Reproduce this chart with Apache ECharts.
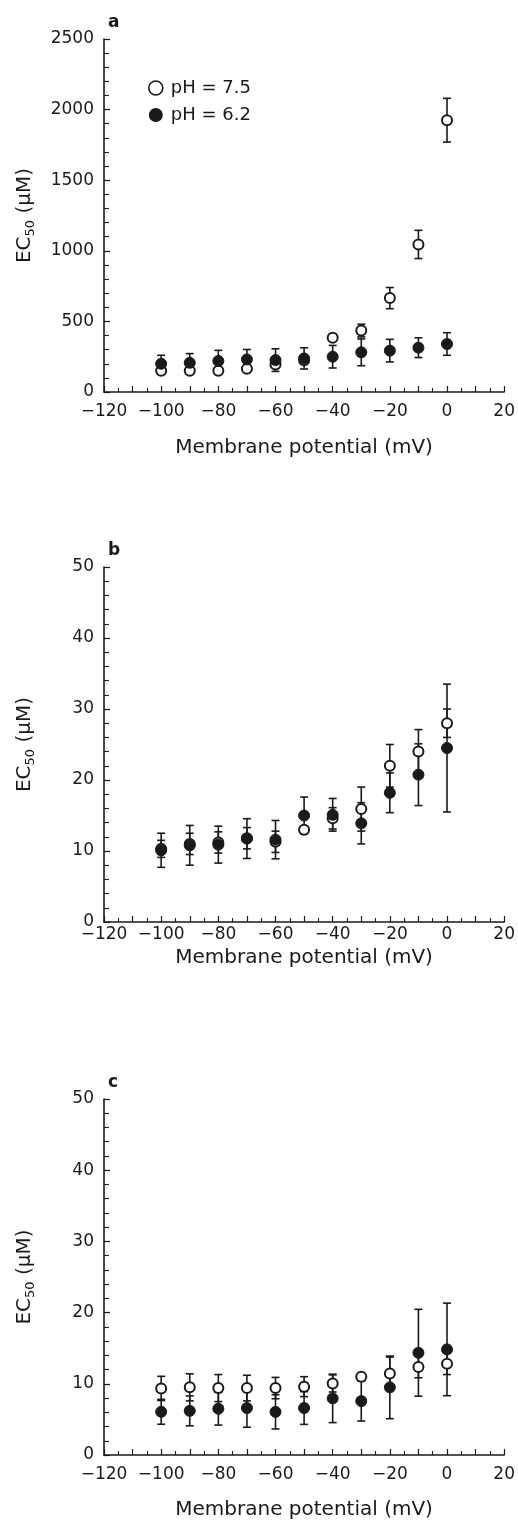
<!DOCTYPE html>
<html>
<head>
<meta charset="utf-8">
<script src="https://cdn.jsdelivr.net/npm/echarts@6/dist/echarts.min.js"></script>
<style>
  html, body { margin: 0; padding: 0; background: #fff; }
  #main { width: 518px; height: 1521px; }
</style>
</head>
<body>
<div id="main"></div>
<script>
// membrane potential (mV)
var voltages = [-100, -90, -80, -70, -60, -50, -40, -30, -20, -10, 0];

// panel a, EC50 (uM)
var aOpen = [150, 150, 150, 165, 195, 225, 385, 435, 665, 1045, 1925];
var aOpenErr = [15, 15, 15, 15, 15, 15, 20, 45, 75, 100, 155];
var aFilled = [200, 207, 220, 231, 226, 238, 250, 281, 293, 314, 340];
var aFilledErr = [60, 65, 75, 70, 80, 75, 80, 95, 80, 70, 80];

// panel b
var bOpen = [10.3, 11.0, 11.2, 11.8, 11.3, 13.0, 14.6, 15.9, 22.0, 24.0, 28.0];
var bOpenErr = [1.2, 1.5, 1.5, 1.5, 1.5, 0.4, 1.5, 3.1, 3.0, 3.1, 2.0];
var bFilled = [10.1, 10.8, 10.9, 11.75, 11.6, 15.0, 15.1, 13.9, 18.2, 20.75, 24.5];
var bFilledErr = [2.4, 2.8, 2.6, 2.8, 2.7, 2.6, 2.3, 2.9, 2.8, 4.35, 9.0];

// panel c
var cOpen = [9.35, 9.5, 9.4, 9.4, 9.4, 9.6, 10.05, 11.0, 11.45, 12.35, 12.8];
var cOpenErr = [1.7, 1.9, 1.9, 1.8, 1.5, 1.4, 1.2, 0.3, 2.3, 1.5, 1.5];
var cFilled = [6.07, 6.2, 6.5, 6.6, 6.06, 6.6, 7.95, 7.57, 9.5, 14.36, 14.83];
var cFilledErr = [1.75, 2.1, 2.3, 2.7, 2.4, 2.3, 3.4, 2.8, 4.4, 6.1, 6.5];

var legendNames = ['pH = 7.5', 'pH = 6.2'];
var panelLetters = ['a', 'b', 'c'];

var FONT = '"DejaVu Sans", "Noto Sans", sans-serif';
var INK = '#1a1a1a';
var FS = 17;      // 刻度文字
var NAME_FS = 20; // 轴名称

var panels = [
  { top: 39, height: 353, max: 2500, interval: 500, open: aOpen, openErr: aOpenErr, filled: aFilled, filledErr: aFilledErr, labelMargin: 11, nameGap: 46 },
  { top: 567, height: 355, max: 50, interval: 10, open: bOpen, openErr: bOpenErr, filled: bFilled, filledErr: bFilledErr, labelMargin: 4, nameGap: 26 },
  { top: 1099, height: 356, max: 50, interval: 10, open: cOpen, openErr: cOpenErr, filled: cFilled, filledErr: cFilledErr, labelMargin: 11, nameGap: 45 }
];

function errData(vals, errs) {
  return voltages.map(function (v, i) {
    return [v, vals[i] - errs[i], vals[i] + errs[i]];
  });
}

function pointData(vals) {
  return voltages.map(function (v, i) { return [v, vals[i]]; });
}

// 误差棒
function renderErr(params, api) {
  var x = api.value(0);
  var lo = api.coord([x, api.value(1)]);
  var hi = api.coord([x, api.value(2)]);
  var half = 4;
  var style = { stroke: INK, lineWidth: 1.6 };
  return {
    type: 'group',
    children: [
      { type: 'line', shape: { x1: lo[0], y1: lo[1], x2: hi[0], y2: hi[1] }, style: style },
      { type: 'line', shape: { x1: lo[0] - half, y1: lo[1], x2: lo[0] + half, y2: lo[1] }, style: style },
      { type: 'line', shape: { x1: hi[0] - half, y1: hi[1], x2: hi[0] + half, y2: hi[1] }, style: style }
    ]
  };
}

var grids = [], xAxes = [], yAxes = [], series = [], titles = [];

panels.forEach(function (p, k) {
  grids.push({ left: 104, right: 12, top: p.top, height: p.height });
  titles.push({
    text: panelLetters[k], left: 103, top: p.top - 30,
    textStyle: { fontSize: FS, fontWeight: 'bold', color: INK, fontFamily: FONT }
  });
  xAxes.push({
    gridIndex: k, type: 'value', min: -120, max: 20, interval: 10,
    name: 'Membrane potential (mV)', nameLocation: 'middle', nameGap: p.nameGap,
    nameTextStyle: { fontSize: NAME_FS, color: INK, fontFamily: FONT },
    axisLine: { show: true, onZero: false, lineStyle: { color: INK, width: 1.6 } },
    axisTick: { show: true, inside: true, length: 6, lineStyle: { color: INK, width: 1.2 } },
    minorTick: { show: true, splitNumber: 2, length: 4, lineStyle: { color: INK, width: 1.1 } },
    splitLine: { show: false },
    axisLabel: {
      margin: p.labelMargin, fontSize: FS, color: INK, fontFamily: FONT,
      formatter: function (v) { return v % 20 === 0 ? String(v).replace('-', '\u2212') : ''; }
    }
  });
  yAxes.push({
    gridIndex: k, type: 'value', min: 0, max: p.max, interval: p.interval,
    name: '{m|EC}{s|50}{m| (\u03bcM)}', nameLocation: 'middle', nameGap: 67, nameRotate: 90,
    nameTextStyle: {
      color: INK, fontFamily: FONT, fontSize: NAME_FS,
      rich: {
        m: { fontSize: NAME_FS, color: INK, fontFamily: FONT, lineHeight: 24 },
        s: { fontSize: 13, color: INK, fontFamily: FONT, lineHeight: 13, verticalAlign: 'bottom' }
      }
    },
    axisLine: { show: true, onZero: false, lineStyle: { color: INK, width: 1.6 } },
    axisTick: { show: true, inside: true, length: 6, lineStyle: { color: INK, width: 1.2 } },
    minorTick: { show: true, splitNumber: 5, length: 5, lineStyle: { color: INK, width: 1.1 } },
    splitLine: { show: false },
    axisLabel: {
      margin: 10, fontSize: FS, color: INK, fontFamily: FONT,
      formatter: function (v) { return String(v); }
    }
  });

  series.push({
    type: 'custom', name: legendNames[0], xAxisIndex: k, yAxisIndex: k, z: 1,
    renderItem: renderErr, data: errData(p.open, p.openErr), silent: true
  });
  series.push({
    type: 'custom', name: legendNames[1], xAxisIndex: k, yAxisIndex: k, z: 1,
    renderItem: renderErr, data: errData(p.filled, p.filledErr), silent: true
  });
  series.push({
    type: 'scatter', name: legendNames[0], xAxisIndex: k, yAxisIndex: k, z: 3,
    symbol: 'circle', symbolSize: 10,
    itemStyle: { color: '#fff', borderColor: INK, borderWidth: 2, opacity: 1 },
    data: pointData(p.open)
  });
  series.push({
    type: 'scatter', name: legendNames[1], xAxisIndex: k, yAxisIndex: k, z: 4,
    symbol: 'circle', symbolSize: 11,
    itemStyle: { color: INK, borderColor: INK, borderWidth: 1, opacity: 1 },
    data: pointData(p.filled)
  });
});

var chart = echarts.init(document.getElementById('main'), null, { renderer: 'canvas' });
chart.setOption({
  backgroundColor: '#fff',
  animation: false,
  title: titles,
  legend: {
    data: [
      { name: legendNames[0], icon: 'circle', itemStyle: { color: '#fff', borderColor: INK, borderWidth: 1.6 } },
      { name: legendNames[1], icon: 'circle', itemStyle: { color: INK, borderColor: INK } }
    ],
    orient: 'vertical', left: 143, top: 74, itemGap: 9,
    itemWidth: 14, itemHeight: 14,
    textStyle: { fontSize: 18, color: INK, fontFamily: FONT, padding: [0, 0, 0, 3] }
  },
  grid: grids,
  xAxis: xAxes,
  yAxis: yAxes,
  series: series
});
</script>
</body>
</html>
